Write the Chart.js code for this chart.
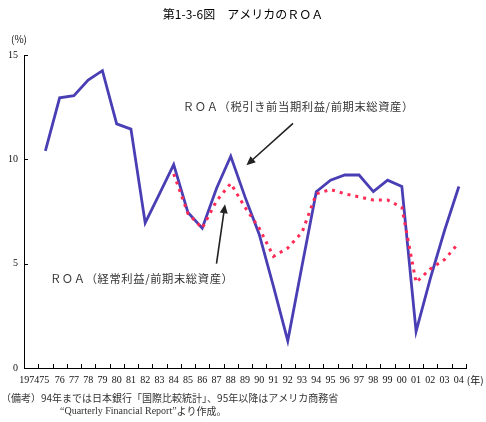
<!DOCTYPE html>
<html>
<head>
<meta charset="utf-8">
<script src="https://cdn.jsdelivr.net/npm/chart.js@4/dist/chart.umd.min.js"></script>
<style>
  html, body { margin: 0; padding: 0; background: #fff; }
  #wrap { width: 486px; height: 422px; }
</style>
</head>
<body>
<div id="wrap"><canvas id="myChart" width="486" height="422"></canvas></div>
<script>
'use strict';

// years shown on the axis (1974 has no data point)
var years = ['1974', '75', '76', '77', '78', '79', '80', '81', '82', '83', '84', '85', '86', '87', '88',
             '89', '90', '91', '92', '93', '94', '95', '96', '97', '98', '99', '00', '01', '02', '03', '04'];

// ROA（税引き前当期利益/前期末総資産）
var roaPretax = [null, 10.4, 12.95, 13.05, 13.8, 14.25, 11.7, 11.45, 6.95, 8.35, 9.75, 7.45, 6.7, 8.6, 10.15,
                 8.2, 6.4, 3.9, 1.3, 4.9, 8.45, 9.0, 9.25, 9.25, 8.45, 9.0, 8.7, 1.75, 4.3, 6.6, 8.7];

// ROA（経常利益/前期末総資産）
var roaOrdinary = [null, null, null, null, null, null, null, null, null, null, 9.3, 7.4, 6.7, 8.0, 8.85,
                   7.7, 6.7, 5.35, 5.75, 6.5, 8.35, 8.55, 8.35, 8.2, 8.05, 8.05, 7.7, 4.1, 4.75, 5.2, 6.0];

var yTicks = [0, 5, 10, 15];

var titleText = '第1-3-6図　アメリカのＲＯＡ';
var pretaxLabel = 'ＲＯＡ（税引き前当期利益/前期末総資産）';
var ordinaryLabel = 'ＲＯＡ（経常利益/前期末総資産）';
var noteLine1 = '（備考）94年までは日本銀行「国際比較統計」、95年以降はアメリカ商務省';
var noteLine2a = '“Quarterly Financial Report”';
var noteLine2b = 'より作成。';

var jpFont = '"Noto Sans CJK JP", "Noto Sans", sans-serif';
var numFont = '"Liberation Serif", "DejaVu Serif", serif';

function arrow(ctx, x1, y1, x2, y2) {
    var ang = Math.atan2(y2 - y1, x2 - x1);
    var len = 9, wid = 4;
    ctx.beginPath();
    ctx.moveTo(x1, y1);
    ctx.lineTo(x2 - Math.cos(ang) * len * 0.7, y2 - Math.sin(ang) * len * 0.7);
    ctx.stroke();
    ctx.beginPath();
    ctx.moveTo(x2, y2);
    ctx.lineTo(x2 - Math.cos(ang) * len + Math.sin(ang) * wid, y2 - Math.sin(ang) * len - Math.cos(ang) * wid);
    ctx.lineTo(x2 - Math.cos(ang) * len - Math.sin(ang) * wid, y2 - Math.sin(ang) * len + Math.cos(ang) * wid);
    ctx.closePath();
    ctx.fill();
}

var decorations = {
    id: 'decorations',
    afterDraw: function (chart) {
        var ctx = chart.ctx;
        var xs = chart.scales.x, ys = chart.scales.y;
        var area = chart.chartArea;
        ctx.save();

        // inward ticks
        ctx.strokeStyle = '#000';
        ctx.lineWidth = 1;
        ctx.beginPath();
        for (var i = 0; i <= years.length; i++) {
            var tx = Math.round(xs.getPixelForValue(i - 0.5)) + 0.5;
            ctx.moveTo(tx, area.bottom);
            ctx.lineTo(tx, area.bottom - 4);
        }
        yTicks.forEach(function (v) {
            var ty = Math.round(ys.getPixelForValue(v)) + 0.5;
            ctx.moveTo(area.left, ty);
            ctx.lineTo(area.left + 4, ty);
        });
        ctx.stroke();

        // tick labels
        ctx.fillStyle = '#111';
        ctx.font = '10px ' + numFont;
        ctx.textBaseline = 'middle';
        ctx.textAlign = 'right';
        yTicks.forEach(function (v) {
            ctx.fillText(String(v), area.left - 6, ys.getPixelForValue(v));
        });
        years.forEach(function (y, i) {
            var lx = xs.getPixelForValue(i);
            if (i === 0) { ctx.textAlign = 'right'; lx = xs.getPixelForValue(0.5) + 1; }
            else if (i === 1) { ctx.textAlign = 'left'; lx = xs.getPixelForValue(0.5) + 1; }
            else { ctx.textAlign = 'center'; }
            ctx.fillText(y, lx, area.bottom + 12);
        });
        ctx.textAlign = 'left';
        ctx.font = '10px ' + jpFont;
        ctx.fillText('(年)', xs.getPixelForValue(years.length - 1) + 8, area.bottom + 12);
        ctx.fillText('(%)', 11, area.top - 16);

        // title
        ctx.fillStyle = '#000';
        ctx.font = '12px ' + jpFont;
        ctx.textAlign = 'center';
        ctx.fillText(titleText, 243, 14);

        // series labels and arrows
        ctx.fillStyle = '#333';
        ctx.font = '11.3px ' + jpFont;
        ctx.textAlign = 'left';
        ctx.letterSpacing = '0.6px';
        ctx.fillText(pretaxLabel, xs.getPixelForValue(10.64), ys.getPixelForValue(12.5));
        ctx.fillText(ordinaryLabel, xs.getPixelForValue(1.32), ys.getPixelForValue(4.3));
        ctx.letterSpacing = '0px';

        ctx.strokeStyle = '#222';
        ctx.fillStyle = '#222';
        ctx.lineWidth = 1.6;
        arrow(ctx, xs.getPixelForValue(18.37), ys.getPixelForValue(11.72),
                   xs.getPixelForValue(15.1), ys.getPixelForValue(9.72));
        arrow(ctx, xs.getPixelForValue(13.0), ys.getPixelForValue(5.0),
                   xs.getPixelForValue(13.6), ys.getPixelForValue(7.85));

        // notes
        ctx.fillStyle = '#333';
        ctx.font = '10px ' + jpFont;
        ctx.fillText(noteLine1, 1, 398);
        ctx.font = '10px ' + numFont;
        ctx.fillText(noteLine2a, 60, 411);
        var w = ctx.measureText(noteLine2a).width;
        ctx.font = '10px ' + jpFont;
        ctx.fillText(noteLine2b, 60 + w, 411);

        ctx.restore();
    }
};

var data = {
    labels: years,
    datasets: [{
        label: ordinaryLabel,
        data: roaOrdinary,
        borderColor: '#ff2a55',
        borderWidth: 3,
        borderDash: [3, 5],
        pointRadius: 0,
        tension: 0,
        fill: false
    }, {
        label: pretaxLabel,
        data: roaPretax,
        borderColor: '#4a3eb4',
        borderWidth: 2.8,
        pointRadius: 0,
        tension: 0,
        fill: false
    }]
};

var options = {
    responsive: false,
    animation: false,
    layout: { padding: { left: 24, top: 55, right: 20, bottom: 54 } },
    plugins: {
        legend: { display: false },
        title: { display: false },
        tooltip: { enabled: false }
    },
    scales: {
        x: {
            type: 'category',
            offset: true,
            grid: { display: false, drawTicks: false, offset: true },
            border: { display: true, color: '#000', width: 1 },
            ticks: { display: false }
        },
        y: {
            min: 0,
            max: 15,
            ticks: { display: false, stepSize: 5 },
            grid: { display: false, drawTicks: false },
            border: { display: true, color: '#000', width: 1 }
        }
    }
};

var myChart = new Chart(document.getElementById('myChart'), {
    type: 'line',
    data: data,
    options: options,
    plugins: [decorations]
});
</script>
</body>
</html>
